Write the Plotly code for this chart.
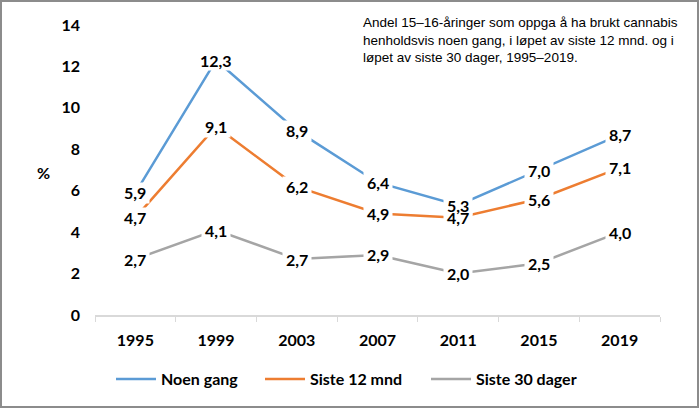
import plotly.graph_objects as go

years = ["1995", "1999", "2003", "2007", "2011", "2015", "2019"]
noen_gang = [5.9, 12.3, 8.9, 6.4, 5.3, 7.0, 8.7]
siste_12 = [4.7, 9.1, 6.2, 4.9, 4.7, 5.6, 7.1]
siste_30 = [2.7, 4.1, 2.7, 2.9, 2.0, 2.5, 4.0]
series_names = ["Noen gang", "Siste 12 mnd", "Siste 30 dager"]
colors = ["#5b9bd5", "#ed7d31", "#a5a5a5"]
title_text = ("Andel 15–16-åringer som oppga å ha brukt cannabis<br>"
              "henholdsvis noen gang, i løpet av siste 12 mnd. og i<br>"
              "løpet av siste 30 dager, 1995–2019.")

FONT = "Lato, 'Open Sans', sans-serif"
legend_widths = [94, 111, 105]

fig = go.Figure()
box_anns = []
text_anns = []
for name, vals, col, lw in zip(series_names, [noen_gang, siste_12, siste_30], colors, legend_widths):
    fig.add_trace(go.Scatter(x=years, y=vals, mode="lines", name=name,
                             legendwidth=lw,
                             line=dict(color=col, width=2.5)))
    for i, yv in enumerate(vals):
        label = f"{yv:.1f}".replace(".", ",")
        # white box that interrupts the line behind the label
        box_anns.append(dict(x=i, y=yv, xref="x", yref="y", text=" ",
                             showarrow=False, bgcolor="white", borderpad=0,
                             width=10 * len(label) - 2, height=20,
                             font=dict(family=FONT, size=16)))
        text_anns.append(dict(x=i, y=yv, xref="x", yref="y", text=label,
                              showarrow=False,
                              font=dict(family=FONT, size=16, color="black", weight="bold")))

L, R, T, B = 95, 40, 25, 94
W, H = 700, 409
pw, ph = W - L - R, H - T - B

def px(xp):
    return (xp - L) / pw

def py(yp):
    return (H - B - yp) / ph

other_anns = [
    dict(x=px(361), y=py(13), xref="paper", yref="paper",
         xanchor="left", yanchor="top", align="left", showarrow=False,
         text=title_text,
         font=dict(family="'Liberation Sans', Arial, sans-serif", size=13.5, color="black")),
    dict(x=px(43), y=py(172), xref="paper", yref="paper",
         xanchor="center", yanchor="middle", showarrow=False, text="%",
         font=dict(family=FONT, size=16, color="black", weight="bold")),
]

fig.update_layout(
    width=W, height=H,
    margin=dict(l=L, r=R, t=T, b=B),
    paper_bgcolor="white", plot_bgcolor="white",
    annotations=box_anns + text_anns + other_anns,
    showlegend=True,
    legend=dict(orientation="h", x=px(111), xanchor="left", y=py(379), yanchor="middle",
                font=dict(family=FONT, size=16, color="black", weight="bold"),
                itemwidth=40),
    shapes=[dict(type="rect", xref="paper", yref="paper",
                 x0=px(1), x1=px(698), y0=py(407), y1=py(1),
                 line=dict(color="#8c8c8c", width=2))],
    xaxis=dict(type="category", range=[-0.5, 6.5], showgrid=False, zeroline=False,
               showline=True, linecolor="#d9d9d9", linewidth=1.5,
               ticks="outside", tickson="boundaries", ticklen=5, tickcolor="#d9d9d9",
               ticklabelstandoff=10,
               tickfont=dict(family=FONT, size=16, color="black", weight="bold")),
    yaxis=dict(range=[0, 14], dtick=2, showgrid=False, zeroline=False, showline=False,
               ticks="", ticklabelstandoff=14,
               tickfont=dict(family=FONT, size=16, color="black", weight="bold")),
)

fig.write_html("out.html")
